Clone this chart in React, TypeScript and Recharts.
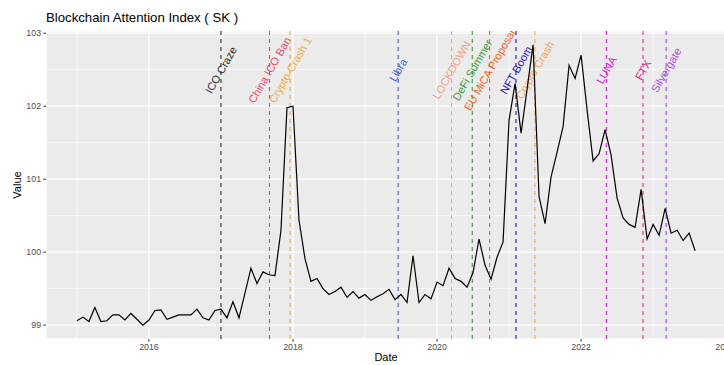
import React from 'react';
import { LineChart, Line, XAxis, YAxis, CartesianGrid, ReferenceLine } from 'recharts';

const FONT = '"Liberation Sans", Arial, Helvetica, sans-serif';

// monthly index values, Jan..Dec
const values2015 = [99.06, 99.11, 99.05, 99.24, 99.05, 99.06, 99.14, 99.14, 99.07, 99.16, 99.08, 99.0];
const values2016 = [99.07, 99.2, 99.21, 99.08, 99.11, 99.14, 99.14, 99.14, 99.22, 99.1, 99.07, 99.2];
const values2017 = [99.22, 99.1, 99.32, 99.1, 99.44, 99.78, 99.57, 99.73, 99.69, 99.68, 100.3, 101.98];
const values2018 = [102.0, 100.44, 99.91, 99.6, 99.64, 99.5, 99.42, 99.46, 99.52, 99.38, 99.46, 99.37];
const values2019 = [99.42, 99.34, 99.39, 99.43, 99.49, 99.35, 99.42, 99.31, 99.95, 99.31, 99.42, 99.36];
const values2020 = [99.59, 99.54, 99.78, 99.64, 99.6, 99.52, 99.72, 100.18, 99.82, 99.63, 99.93, 100.14];
const values2021 = [101.81, 102.31, 101.63, 102.23, 102.84, 100.76, 100.39, 101.03, 101.37, 101.72, 102.56, 102.38];
const values2022 = [102.7, 101.95, 101.25, 101.35, 101.68, 101.33, 100.74, 100.47, 100.38, 100.34, 100.86, 100.18];
const values2023 = [100.38, 100.23, 100.6, 100.26, 100.3, 100.16, 100.26, 100.02];

const years: [number, number[]][] = [
  [2015, values2015],
  [2016, values2016],
  [2017, values2017],
  [2018, values2018],
  [2019, values2019],
  [2020, values2020],
  [2021, values2021],
  [2022, values2022],
  [2023, values2023],
];

const eventNames = [
  'ICO Craze', 'China ICO Ban', 'Crypto Crash 1', 'Libra', 'LOCKDOWN', 'DeFi Summer',
  'EU MiCA Proposal', 'NFT Boom', 'Crypto Crash', 'LUNA', 'FTX', 'Silvergate',
];
const eventDates = [
  '2017-01-01', '2017-09-04', '2017-12-17', '2019-06-18', '2020-03-15', '2020-06-28',
  '2020-09-24', '2021-02-05', '2021-05-12', '2022-05-09', '2022-11-11', '2023-03-08',
];
const eventColors = [
  '#2a2a2a', '#e3475f', '#f2a73a', '#3a5fc8', '#eea286', '#3c9a3c',
  '#e8652a', '#1c1cb0', '#f2a54a', '#d81fd8', '#e0288e', '#a64bdb',
];

const xTicks = [2016, 2018, 2020, 2022, 2024];
const xMinor = [2015, 2017, 2019, 2021, 2023];
const yTicks = [99, 100, 101, 102, 103];
const yMinor = [99.5, 100.5, 101.5, 102.5];

const toYear = (d: string) => {
  const [y, m, dd] = d.split('-').map(Number);
  const start = Date.UTC(y, 0, 1);
  const end = Date.UTC(y + 1, 0, 1);
  return y + (Date.UTC(y, m - 1, dd) - start) / (end - start);
};

const data = years.flatMap(([year, vals]) => vals.map((value, m) => ({ t: year + m / 12, value })));

const EventLabel = (props: any) => {
  const { viewBox, text, color, idx } = props;
  if (!viewBox) return null;
  const x = viewBox.x;
  const top = viewBox.y;
  const cy = top + 39;
  const id = `ev-clip-${idx}`;
  return (
    <g>
      <defs>
        <clipPath id={id}>
          <rect x={x - 100} y={top} width={200} height={viewBox.height} />
        </clipPath>
      </defs>
      <g clipPath={`url(#${id})`}>
        <text
          x={x}
          y={cy}
          transform={`rotate(-60 ${x} ${cy})`}
          textAnchor="middle"
          dominantBaseline="central"
          fill={color}
          fontSize={11}
          fontFamily={FONT}
        >
          {text}
        </text>
      </g>
    </g>
  );
};

export default function App() {
  return (
    <div
      style={{
        position: 'absolute', left: 0, top: 0, width: 724, height: 365,
        overflow: 'hidden', background: '#fff', fontFamily: FONT,
      }}
    >
      <div style={{ position: 'absolute', left: 46, top: 10, fontSize: 13.2, lineHeight: '15px', color: '#000', whiteSpace: 'nowrap' }}>
        Blockchain Attention Index ( SK )
      </div>
      <div
        style={{
          position: 'absolute', left: 17, top: 185, fontSize: 11, color: '#000', whiteSpace: 'nowrap',
          transform: 'translate(-50%, -50%) rotate(-90deg)', lineHeight: '12px',
        }}
      >
        Value
      </div>
      <div
        style={{
          position: 'absolute', left: 386, top: 357, fontSize: 11, color: '#000', whiteSpace: 'nowrap',
          transform: 'translate(-50%, -50%)', lineHeight: '12px',
        }}
      >
        Date
      </div>
      <LineChart width={740} height={365} data={data} margin={{ top: 31, right: 14, bottom: 0, left: 0 }}>
        <CartesianGrid fill="#EBEBEB" stroke="#FFFFFF" strokeWidth={1.3} />
        <XAxis
          type="number"
          dataKey="t"
          domain={[2014.571, 2024.012]}
          ticks={xTicks}
          interval={0}
          allowDataOverflow
          height={26}
          tickSize={2.75}
          tickMargin={2}
          axisLine={false}
          tickLine={{ stroke: '#333333' }}
          tick={{ fill: '#4D4D4D', fontSize: 8.8, fontFamily: FONT }}
          tickFormatter={(v: number) => String(v)}
        />
        <YAxis
          type="number"
          domain={[98.81, 103.03]}
          ticks={yTicks}
          interval={0}
          allowDataOverflow
          width={46}
          tickSize={2.75}
          tickMargin={2.2}
          axisLine={false}
          tickLine={{ stroke: '#333333' }}
          tick={{ fill: '#4D4D4D', fontSize: 8.8, fontFamily: FONT }}
        />
        {yMinor.map((v) => (
          <ReferenceLine key={`ym${v}`} y={v} stroke="#FFFFFF" strokeWidth={0.7} ifOverflow="hidden" />
        ))}
        {xMinor.map((v) => (
          <ReferenceLine key={`xm${v}`} x={v} stroke="#FFFFFF" strokeWidth={0.7} ifOverflow="hidden" />
        ))}
        {eventNames.map((name, i) => (
          <ReferenceLine
            key={name}
            x={toYear(eventDates[i])}
            stroke={eventColors[i]}
            strokeWidth={1.1}
            strokeDasharray="4 4"
            ifOverflow="hidden"
            label={<EventLabel text={name} color={eventColors[i]} idx={i} />}
          />
        ))}
        <Line
          type="linear"
          dataKey="value"
          stroke="#000000"
          strokeWidth={1.2}
          dot={false}
          isAnimationActive={false}
        />
      </LineChart>
    </div>
  );
}
